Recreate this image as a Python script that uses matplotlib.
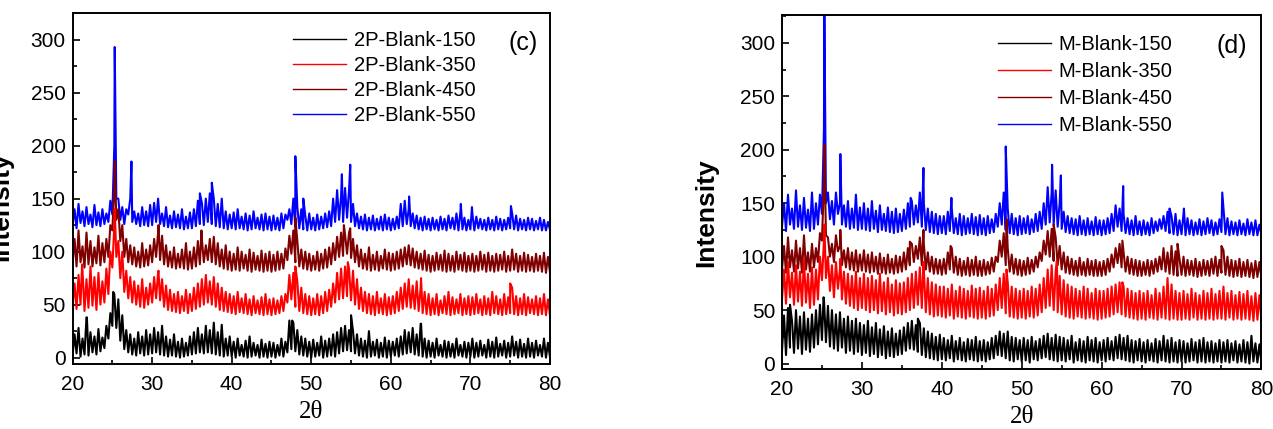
import numpy as np
import matplotlib.pyplot as plt
from matplotlib.ticker import MultipleLocator

plt.rcParams['font.family'] = ['Liberation Sans', 'DejaVu Sans']

# 2-theta grid: lower envelope read every 0.5 deg, upper envelope half-way between
x_low = np.arange(20.0, 80.01, 0.5)
x_high = np.arange(20.25, 80.0, 0.5)

# ---- panel (c): 2P-Blank ----
c150_low = [2, 4, 1, 3, 2, 5, 3, 6, 9, 18,
            30, 28, 16, 8, 5, 3, 2, 4, 2, 3,
            4, 5, 3, 2, 1, 2, 1, 0, 1, 2,
            3, 4, 5, 4, 5, 4, 3, 2, 1, 2,
            1, 0, 2, 1, 0, 1, 2, 0, 1, 0,
            1, 0, 2, 1, 5, 8, 6, 3, 2, 1,
            0, 1, 2, 0, 1, 2, 1, 4, 6, 7,
            6, 4, 2, 1, 0, 1, 2, 0, 1, 0,
            1, 2, 1, 3, 4, 5, 3, 2, 1, 0,
            1, 0, 2, 1, 0, 1, 0, 2, 1, 0,
            1, 0, 1, 2, 0, 1, 0, 1, 2, 0,
            1, 2, 0, 1, 0, 1, 0, 2, 1, 0,
            1]
c150_high = [22, 28, 18, 38, 24, 20, 27, 19, 30, 42,
             60, 55, 40, 26, 22, 18, 24, 20, 26, 22,
             28, 24, 30, 20, 17, 22, 15, 18, 14, 20,
             24, 28, 22, 30, 26, 33, 24, 31, 18, 20,
             15, 18, 12, 16, 20, 14, 12, 17, 13, 15,
             14, 12, 18, 15, 35, 33, 26, 20, 18, 15,
             17, 14, 20, 16, 18, 22, 24, 28, 30, 26,
             25, 22, 18, 16, 25, 15, 17, 14, 19, 16,
             15, 18, 20, 26, 24, 28, 22, 32, 18, 16,
             14, 18, 12, 16, 15, 13, 18, 12, 15, 14,
             18, 14, 16, 12, 17, 15, 19, 13, 16, 14,
             20, 15, 17, 13, 18, 14, 16, 12, 18, 14]
c150_px = [21.8, 25.1, 47.6, 55.0, 63.8]
c150_py = [38, 62, 35, 40, 32]

c350_low = [48, 46, 50, 44, 47, 49, 45, 50, 52, 60,
            85, 95, 75, 62, 56, 52, 50, 48, 47, 50,
            52, 56, 54, 48, 45, 44, 43, 42, 44, 42,
            44, 46, 48, 50, 52, 50, 48, 45, 44, 43,
            42, 41, 43, 42, 41, 40, 42, 41, 40, 41,
            40, 41, 42, 44, 52, 55, 48, 44, 42, 41,
            40, 41, 40, 42, 44, 48, 52, 55, 56, 58,
            54, 50, 46, 44, 42, 41, 40, 42, 41, 40,
            41, 42, 44, 46, 48, 47, 46, 44, 42, 41,
            40, 41, 40, 42, 41, 40, 41, 42, 40, 41,
            40, 41, 42, 40, 41, 40, 42, 41, 40, 41,
            42, 41, 40, 41, 40, 42, 41, 40, 41, 40,
            40]
c350_high = [70, 78, 82, 74, 86, 76, 80, 72, 84, 100,
             125, 110, 100, 82, 76, 72, 68, 74, 66, 70,
             76, 80, 74, 68, 64, 60, 62, 58, 64, 60,
             66, 70, 74, 78, 72, 76, 70, 66, 62, 60,
             58, 62, 56, 60, 55, 58, 54, 57, 60, 55,
             56, 54, 58, 60, 78, 80, 72, 66, 60, 58,
             56, 60, 58, 62, 64, 70, 80, 84, 86, 84,
             82, 74, 66, 62, 60, 58, 62, 56, 60, 57,
             58, 62, 66, 70, 74, 68, 72, 66, 62, 60,
             56, 60, 54, 58, 62, 57, 55, 60, 56, 58,
             57, 60, 55, 58, 56, 62, 58, 55, 60, 57,
             66, 58, 56, 60, 57, 55, 58, 56, 60, 55]
c350_px = [21.2, 25.3, 30.8, 48.0, 54.6, 63.8, 75.0]
c350_py = [88, 140, 82, 86, 90, 75, 70]

c450_low = [88, 86, 90, 85, 88, 86, 89, 87, 90, 95,
            120, 130, 110, 95, 90, 88, 86, 85, 86, 87,
            90, 95, 92, 88, 86, 85, 84, 85, 84, 83,
            84, 86, 88, 90, 92, 90, 88, 86, 84, 83,
            82, 83, 82, 84, 82, 81, 83, 82, 81, 82,
            81, 82, 83, 84, 92, 98, 90, 86, 84, 83,
            82, 83, 82, 84, 85, 88, 92, 95, 96, 98,
            94, 90, 86, 84, 83, 82, 83, 82, 84, 83,
            82, 83, 84, 86, 88, 87, 85, 84, 83, 82,
            81, 82, 83, 82, 81, 82, 81, 83, 82, 81,
            82, 81, 82, 83, 81, 82, 81, 82, 83, 81,
            82, 83, 81, 82, 81, 82, 81, 82, 81, 80,
            81]
c450_high = [112, 120, 105, 118, 110, 104, 115, 108, 112, 125,
             160, 140, 125, 112, 106, 104, 100, 108, 102, 106,
             112, 118, 115, 106, 100, 104, 98, 102, 108, 100,
             104, 110, 112, 106, 112, 114, 108, 102, 106, 100,
             98, 104, 100, 97, 102, 99, 96, 101, 98, 100,
             97, 100, 98, 103, 115, 120, 110, 102, 100, 98,
             96, 100, 98, 102, 104, 108, 114, 118, 116, 118,
             112, 106, 102, 98, 104, 97, 100, 96, 102, 99,
             98, 100, 102, 104, 106, 103, 100, 98, 101, 97,
             96, 99, 97, 101, 98, 96, 100, 97, 99, 96,
             98, 96, 100, 97, 99, 96, 98, 97, 100, 96,
             102, 98, 96, 99, 97, 95, 98, 96, 99, 95]
c450_px = [25.3, 30.8, 36.2, 48.0, 54.1, 54.9]
c450_py = [185, 125, 120, 132, 125, 122]

c550_low = [125, 122, 127, 124, 126, 123, 125, 124, 126, 128,
            135, 150, 130, 126, 135, 128, 126, 124, 125, 124,
            125, 128, 126, 124, 123, 122, 123, 122, 121, 122,
            122, 124, 126, 125, 128, 126, 124, 123, 122, 121,
            122, 121, 122, 121, 120, 121, 122, 121, 120, 121,
            120, 121, 120, 122, 130, 126, 123, 122, 121, 120,
            121, 120, 121, 122, 123, 124, 128, 130, 128, 132,
            128, 124, 122, 121, 120, 121, 120, 121, 120, 121,
            120, 121, 122, 124, 126, 124, 122, 121, 120, 121,
            120, 121, 120, 121, 120, 122, 121, 120, 121, 120,
            121, 120, 122, 121, 120, 121, 120, 121, 120, 121,
            122, 121, 120, 121, 120, 121, 120, 121, 120, 120,
            121]
c550_high = [140, 145, 138, 142, 135, 144, 137, 140, 136, 148,
             200, 150, 142, 140, 150, 138, 136, 142, 138, 144,
             146, 150, 136, 142, 134, 138, 135, 140, 133, 137,
             140, 148, 146, 150, 155, 150, 145, 150, 138, 135,
             137, 140, 133, 136, 134, 138, 132, 135, 136, 133,
             134, 132, 136, 135, 140, 150, 142, 140, 134, 136,
             132, 135, 133, 136, 138, 150, 158, 152, 160, 158,
             145, 136, 133, 135, 132, 134, 131, 133, 135, 132,
             131, 133, 145, 148, 140, 136, 134, 132, 133, 131,
             132, 130, 133, 131, 134, 132, 136, 138, 132, 130,
             136, 133, 131, 130, 132, 130, 133, 131, 130, 132,
             136, 134, 131, 130, 132, 131, 129, 132, 130, 128]
c550_px = [25.3, 27.4, 36.0, 37.5, 48.0, 49.0, 53.85, 54.9, 62.3, 68.8, 70.2, 75.1]
c550_py = [293, 185, 155, 165, 190, 150, 173, 182, 152, 145, 142, 143]

# ---- panel (d): M-Blank ----
d150_low = [12, 8, 15, 10, 14, 9, 13, 11, 15, 18,
            22, 20, 16, 14, 12, 15, 10, 12, 9, 11,
            8, 10, 7, 9, 6, 8, 5, 7, 6, 8,
            9, 12, 14, 13, 11, 8, 6, 5, 4, 3,
            4, 3, 5, 2, 4, 3, 2, 4, 3, 2,
            3, 2, 4, 5, 8, 7, 5, 3, 2, 4,
            2, 3, 1, 4, 3, 5, 6, 4, 3, 2,
            3, 2, 4, 1, 3, 2, 1, 3, 2, 1,
            3, 2, 4, 3, 5, 4, 3, 2, 1, 3,
            2, 1, 3, 2, 1, 3, 2, 1, 2, 1,
            2, 1, 2, 3, 1, 2, 1, 2, 1, 2,
            1, 2, 1, 3, 1, 2, 1, 0, 2, 1,
            1]
d150_high = [45, 52, 40, 50, 44, 48, 42, 46, 50, 55,
             60, 54, 50, 46, 48, 42, 44, 40, 42, 38,
             36, 40, 34, 38, 32, 35, 30, 33, 28, 31,
             34, 38, 40, 36, 38, 33, 30, 28, 25, 27,
             24, 22, 26, 21, 24, 20, 23, 22, 25, 21,
             22, 20, 24, 26, 30, 28, 30, 25, 24, 22,
             24, 22, 25, 21, 23, 26, 28, 24, 27, 25,
             24, 22, 26, 20, 23, 21, 25, 22, 24, 20,
             22, 24, 21, 25, 27, 24, 26, 22, 21, 23,
             20, 22, 19, 23, 21, 26, 22, 24, 20, 22,
             21, 19, 23, 20, 22, 24, 20, 21, 19, 22,
             20, 22, 19, 21, 18, 22, 20, 26, 19, 18]
d150_px = [21.0, 25.2, 37.0]
d150_py = [55, 62, 42]

d350_low = [60, 56, 62, 55, 58, 54, 57, 52, 55, 60,
            78, 80, 68, 62, 70, 60, 56, 54, 52, 50,
            52, 50, 48, 50, 47, 49, 46, 48, 45, 47,
            46, 48, 50, 52, 55, 52, 48, 46, 44, 45,
            44, 43, 45, 42, 44, 43, 42, 44, 43, 42,
            43, 42, 44, 45, 50, 52, 47, 44, 43, 42,
            43, 42, 44, 43, 45, 48, 52, 54, 50, 48,
            46, 44, 43, 42, 44, 43, 42, 43, 42, 41,
            42, 43, 44, 46, 48, 46, 44, 43, 42, 41,
            42, 41, 43, 42, 41, 43, 42, 41, 42, 41,
            41, 42, 41, 43, 41, 42, 41, 42, 41, 42,
            42, 41, 43, 41, 42, 41, 42, 41, 40, 41,
            40]
d350_high = [88, 95, 85, 92, 86, 98, 84, 90, 88, 100,
             115, 100, 92, 95, 88, 86, 84, 82, 86, 80,
             84, 80, 82, 78, 84, 76, 80, 74, 78, 75,
             76, 80, 84, 86, 90, 88, 80, 76, 74, 72,
             72, 70, 74, 68, 72, 70, 68, 73, 70, 71,
             68, 72, 70, 74, 80, 84, 76, 72, 70, 68,
             70, 68, 72, 70, 74, 80, 88, 92, 86, 82,
             78, 74, 72, 70, 68, 72, 70, 66, 70, 68,
             68, 70, 72, 74, 76, 72, 70, 68, 66, 68,
             66, 68, 64, 70, 66, 72, 80, 74, 68, 66,
             68, 65, 70, 66, 64, 68, 66, 70, 65, 68,
             72, 66, 68, 64, 67, 65, 68, 63, 66, 64]
d350_px = [25.3, 27.3, 37.7, 48.1, 54.4, 62.6]
d350_py = [130, 98, 95, 88, 96, 76]

d450_low = [88, 85, 90, 86, 89, 85, 88, 86, 90, 95,
            115, 120, 100, 95, 105, 92, 90, 88, 87, 86,
            87, 86, 85, 86, 84, 85, 84, 85, 84, 85,
            86, 88, 92, 95, 98, 92, 88, 86, 84, 84,
            83, 84, 88, 85, 83, 82, 83, 82, 83, 82,
            82, 83, 84, 86, 95, 100, 92, 86, 84, 83,
            82, 83, 84, 86, 90, 96, 102, 100, 96, 92,
            88, 85, 84, 83, 82, 83, 82, 83, 82, 82,
            82, 83, 86, 90, 94, 90, 86, 84, 83, 82,
            82, 83, 82, 84, 86, 88, 86, 84, 83, 82,
            83, 82, 83, 82, 81, 82, 83, 82, 84, 82,
            85, 83, 82, 81, 82, 81, 82, 81, 80, 81,
            80]
d450_high = [110, 118, 106, 115, 108, 120, 104, 112, 108, 122,
             170, 118, 112, 120, 110, 106, 108, 104, 106, 102,
             106, 102, 104, 100, 103, 99, 102, 98, 101, 100,
             104, 108, 112, 110, 118, 112, 104, 100, 98, 97,
             98, 104, 108, 100, 98, 96, 99, 97, 100, 96,
             97, 95, 99, 100, 115, 122, 108, 102, 98, 97,
             96, 99, 97, 100, 104, 115, 124, 126, 118, 110,
             104, 100, 98, 96, 99, 95, 98, 96, 97, 95,
             96, 98, 102, 108, 112, 104, 100, 98, 97, 96,
             95, 97, 96, 98, 100, 108, 104, 110, 105, 98,
             100, 97, 96, 98, 95, 97, 96, 98, 100, 97,
             106, 100, 97, 96, 98, 95, 97, 94, 96, 95]
d450_px = [25.3, 27.3, 36.0, 37.7, 41.1, 48.1, 54.0, 62.6, 69.5, 75.0]
d450_py = [205, 125, 114, 125, 110, 135, 130, 115, 112, 110]

d550_low = [128, 124, 130, 126, 128, 125, 127, 124, 126, 130,
            140, 150, 135, 130, 140, 130, 128, 126, 127, 125,
            126, 125, 124, 126, 123, 125, 124, 123, 122, 123,
            124, 126, 128, 130, 132, 128, 125, 123, 122, 121,
            122, 121, 124, 122, 121, 120, 121, 122, 121, 120,
            121, 120, 122, 123, 128, 130, 125, 122, 121, 120,
            121, 122, 121, 123, 124, 126, 130, 132, 130, 128,
            126, 123, 122, 121, 120, 121, 120, 121, 120, 121,
            120, 121, 122, 124, 128, 124, 122, 121, 120, 121,
            120, 121, 120, 122, 124, 126, 124, 122, 121, 120,
            121, 120, 121, 120, 121, 120, 121, 122, 120, 121,
            123, 121, 120, 121, 120, 121, 120, 121, 120, 120,
            121]
d550_high = [150, 158, 145, 162, 148, 155, 144, 160, 150, 158,
             220, 160, 152, 160, 150, 148, 152, 145, 158, 146,
             150, 145, 152, 143, 148, 140, 146, 142, 145, 140,
             144, 150, 152, 148, 160, 150, 145, 142, 140, 138,
             138, 142, 145, 136, 140, 138, 136, 140, 137, 139,
             136, 138, 135, 140, 150, 160, 145, 140, 136, 138,
             136, 138, 135, 140, 142, 150, 165, 160, 162, 150,
             142, 138, 136, 135, 138, 134, 136, 133, 137, 134,
             134, 136, 140, 148, 145, 140, 136, 134, 138, 133,
             134, 132, 136, 133, 135, 138, 142, 138, 140, 134,
             140, 136, 134, 132, 135, 133, 136, 134, 132, 135,
             145, 136, 133, 132, 134, 131, 135, 132, 134, 130]
d550_px = [25.3, 27.3, 36.1, 37.7, 41.2, 48.0, 53.8, 54.9, 62.7, 68.5, 70.3, 75.1]
d550_py = [330, 196, 155, 183, 155, 203, 186, 176, 166, 145, 145, 160]

colors = ['black', '#ff0000', '#800000', '#0000ff']
temps = ['150', '350', '450', '550']


def trace(low, high, px, py):
    xs = np.concatenate([x_low, x_high, px])
    ys = np.concatenate([low, high, py])
    k = np.argsort(xs, kind='stable')
    return xs[k], ys[k]


panels = [
    ('2P-Blank-', '(c)', [(c150_low, c150_high, c150_px, c150_py),
                          (c350_low, c350_high, c350_px, c350_py),
                          (c450_low, c450_high, c450_px, c450_py),
                          (c550_low, c550_high, c550_px, c550_py)]),
    ('M-Blank-', '(d)', [(d150_low, d150_high, d150_px, d150_py),
                         (d350_low, d350_high, d350_px, d350_py),
                         (d450_low, d450_high, d450_px, d450_py),
                         (d550_low, d550_high, d550_px, d550_py)]),
]

fig = plt.figure(figsize=(12.73, 4.29), dpi=100)
ax_c = fig.add_axes([0.057, 0.1515, 0.375, 0.818])
ax_d = fig.add_axes([0.6143, 0.140, 0.3766, 0.825])

leg_anchor = [(0.462, 0.948), (0.4506, 0.9445)]
leg_space = [0.30, 0.41]
tag_pos = [(0.943, 0.9145), (0.9376, 0.912)]
ylims = [(-6, 325), (-5, 326)]
ylab_pos = [(-0.1246, 0.447), (-0.1335, 0.442)]

for i, (ax, (prefix, tag, series)) in enumerate(zip([ax_c, ax_d], panels)):
    lines = []
    # draw 550 first so the lower patterns sit on top, like the original
    for j in [3, 2, 1, 0]:
        low, high, px, py = series[j]
        xs, ys = trace(low, high, px, py)
        ln, = ax.plot(xs, ys, color=colors[j], lw=1.5, label=prefix + temps[j])
        lines.append(ln)
    lines = lines[::-1]

    ax.set_xlim(20, 80)
    ax.set_ylim(*ylims[i])
    ax.xaxis.set_major_locator(MultipleLocator(10))
    ax.xaxis.set_minor_locator(MultipleLocator(5))
    ax.yaxis.set_major_locator(MultipleLocator(50))
    ax.yaxis.set_minor_locator(MultipleLocator(25))
    ax.tick_params(which='both', direction='in', top=False, right=False, width=1.2)
    ax.tick_params(which='major', length=5, labelsize=15)
    ax.tick_params(which='minor', length=3)
    ax.tick_params(axis='x', pad=8)
    ax.tick_params(axis='y', pad=5)
    for s in ax.spines.values():
        s.set_linewidth(1.4)

    ax.set_xlabel('2θ', family='Liberation Serif', fontsize=18, labelpad=5)
    ax.set_ylabel('Intensity', fontsize=19, fontweight='bold')
    ax.yaxis.set_label_coords(*ylab_pos[i])

    leg = ax.legend(handles=lines, loc='upper left', bbox_to_anchor=leg_anchor[i],
                    frameon=False, fontsize=14.5, borderpad=0, handlelength=2.65,
                    handletextpad=0.35, labelspacing=leg_space[i], borderaxespad=0)
    for h in leg.legend_handles:
        h.set_linewidth(1.0)
    ax.text(*tag_pos[i], tag, transform=ax.transAxes, fontsize=18,
            ha='center', va='center')

fig.savefig('out.png', dpi=100)
